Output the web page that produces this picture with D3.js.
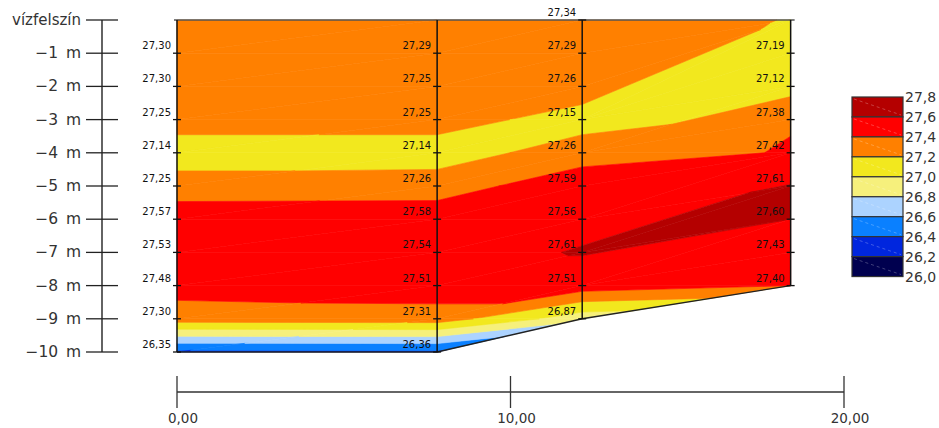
<!DOCTYPE html>
<html>
<head>
<meta charset="utf-8">
<script src="https://cdn.jsdelivr.net/npm/d3@7"></script>
<style>
  body { margin: 0; background: #fff; }
  svg { display: block; font-family: "DejaVu Sans", Verdana, sans-serif; }
</style>
</head>
<body>
<svg id="chart" width="939" height="428"></svg>
<script>
// Profile stations along the section (distance along the transect)
const stationDistance = [0, 7.8, 12.15, 18.4];

// Measured depths (m below the water surface) and water temperatures (°C) per station
const depths1 = [1, 2, 3, 4, 5, 6, 7, 8, 9, 10];
const temps1  = [27.30, 27.30, 27.25, 27.14, 27.25, 27.57, 27.53, 27.48, 27.30, 26.35];
const depths2 = [1, 2, 3, 4, 5, 6, 7, 8, 9, 10];
const temps2  = [27.29, 27.25, 27.25, 27.14, 27.26, 27.58, 27.54, 27.51, 27.31, 26.36];
const depths3 = [0, 1, 2, 3, 4, 5, 6, 7, 8, 9];
const temps3  = [27.34, 27.29, 27.26, 27.15, 27.26, 27.59, 27.56, 27.61, 27.51, 26.87];
const depths4 = [1, 2, 3, 4, 5, 6, 7, 8];
const temps4  = [27.19, 27.12, 27.38, 27.42, 27.61, 27.60, 27.43, 27.40];

// Colour classes (bottom to top)
const classBreaks  = [26.0, 26.2, 26.4, 26.6, 26.8, 27.0, 27.2, 27.4, 27.6, 27.8];
const classColors  = ["#00004f", "#0026de", "#0a80ff", "#acd3ff", "#f6f07c",
                      "#f2e81e", "#ff8000", "#ff0000", "#b40000"];

// Axis ticks
const depthTicks       = [0, 1, 2, 3, 4, 5, 6, 7, 8, 9, 10];
const depthTickLabels  = ["vízfelszín", "\u22121\u2002m", "\u22122\u2002m", "\u22123\u2002m", "\u22124\u2002m",
                          "\u22125\u2002m", "\u22126\u2002m", "\u22127\u2002m", "\u22128\u2002m", "\u22129\u2002m", "\u221210\u2002m"];
const distanceTicks      = [0, 10, 20];
const distanceTickLabels = ["0,00", "10,00", "20,00"];

// ---------------------------------------------------------------------------
const svg = d3.select("#chart");
const x = d3.scaleLinear().domain([0, 20]).range([177, 844]);
const y = d3.scaleLinear().domain([0, 10]).range([20, 352]);
const fmt = d3.formatLocale({ decimal: ",", thousands: " ", grouping: [3], currency: ["", ""] }).format(".2f");

const profiles = [
  { dist: stationDistance[0], depths: depths1, temps: temps1 },
  { dist: stationDistance[1], depths: depths2, temps: temps2 },
  { dist: stationDistance[2], depths: depths3, temps: temps3 },
  { dist: stationDistance[3], depths: depths4, temps: temps4 }
];

// Node list of each profile: surface node (carrying the shallowest reading if not measured) + readings
profiles.forEach(p => {
  const nodes = p.depths.map((d, i) => ({ d, v: p.temps[i] }));
  if (p.depths[0] > 0) nodes.unshift({ d: 0, v: p.temps[0] });
  p.nodes = nodes.map(n => ({ px: x(p.dist), py: y(n.d), d: n.d, v: n.v }));
});

// Triangulate the strip between two neighbouring profiles by walking down both
// columns; keyR maps a right-hand depth onto the left-hand depth it pairs with.
// Towards the right bank the layers rise, so the last strip pairs right nodes
// with deeper nodes on the left.
function stripTriangles(L, R, keyR) {
  const tris = [];
  let i = 0, j = 0;
  while (i < L.length - 1 || j < R.length - 1) {
    let advanceLeft;
    if (i === L.length - 1) advanceLeft = false;
    else if (j === R.length - 1) advanceLeft = true;
    else advanceLeft = L[i + 1].d <= keyR(R[j + 1].d);
    if (advanceLeft) { tris.push([L[i], R[j], L[i + 1]]); i++; }
    else { tris.push([L[i], R[j], R[j + 1]]); j++; }
  }
  return tris;
}
const strips = [
  d => d + 0.01,
  d => d + 0.01,
  d3.scaleLinear().domain([1, 2, 4, 5, 6, 8]).range([3.1, 3.9, 4.9, 6.5, 7.5, 8.7])
];
let triangles = [];
for (let s = 0; s < profiles.length - 1; s++) {
  triangles = triangles.concat(stripTriangles(profiles[s].nodes, profiles[s + 1].nodes, strips[s]));
}

// Clip a polygon (vertices carry linear values) to v >= c (sign 1) or v <= c (sign -1)
function clipPoly(poly, c, sign) {
  const out = [];
  for (let k = 0; k < poly.length; k++) {
    const a = poly[k], b = poly[(k + 1) % poly.length];
    const ina = sign * (a.v - c) >= 0, inb = sign * (b.v - c) >= 0;
    if (ina) out.push(a);
    if (ina !== inb) {
      const t = (c - a.v) / (b.v - a.v);
      out.push({ px: a.px + t * (b.px - a.px), py: a.py + t * (b.py - a.py), v: c });
    }
  }
  return out;
}

const bandPolys = [];
triangles.forEach(tri => {
  for (let b = 0; b < classColors.length; b++) {
    let poly = clipPoly(tri, classBreaks[b], 1);
    if (poly.length < 3) continue;
    poly = clipPoly(poly, classBreaks[b + 1], -1);
    if (poly.length < 3) continue;
    bandPolys.push({ poly, color: classColors[b] });
  }
});

const line = d3.line().x(p => p.px).y(p => p.py);

svg.append("g").attr("class", "bands")
  .selectAll("path").data(bandPolys).join("path")
  .attr("d", d => line(d.poly) + "Z")
  .attr("fill", d => d.color)
  .attr("stroke", d => d.color)
  .attr("stroke-width", 0.6)
  .attr("stroke-linejoin", "round");

// Section frame: water surface, profile lines, bed line
const gFrame = svg.append("g");
gFrame.append("line")
  .attr("x1", x(stationDistance[0]) - 3).attr("x2", x(stationDistance[3]) + 4)
  .attr("y1", y(0)).attr("y2", y(0))
  .attr("stroke", "#555").attr("stroke-width", 1.5);

gFrame.append("path")
  .attr("d", d3.line()(profiles.map(p => [x(p.dist), y(p.depths[p.depths.length - 1])])))
  .attr("fill", "none").attr("stroke", "#222").attr("stroke-width", 1.4);

profiles.forEach(p => {
  const px = x(p.dist);
  const maxD = p.depths[p.depths.length - 1];
  gFrame.append("line")
    .attr("x1", px).attr("x2", px).attr("y1", y(0)).attr("y2", y(maxD))
    .attr("stroke", "#111").attr("stroke-width", 1.5);
  gFrame.selectAll(null).data(p.depths).join("line")
    .attr("x1", px - 4).attr("x2", px + 4)
    .attr("y1", d => y(d)).attr("y2", d => y(d))
    .attr("stroke", "#111").attr("stroke-width", 1.3);
  gFrame.selectAll(null).data(p.depths.map((d, i) => ({ d, v: p.temps[i] }))).join("text")
    .attr("x", px - 6).attr("y", d => y(d.d) - 4)
    .attr("text-anchor", "end")
    .attr("font-size", 10)
    .attr("fill", "#111")
    .text(d => fmt(d.v));
});

// Depth axis
const gDepth = svg.append("g");
gDepth.append("line")
  .attr("x1", 102).attr("x2", 102).attr("y1", y(0)).attr("y2", y(10))
  .attr("stroke", "#222").attr("stroke-width", 1.4);
gDepth.selectAll(null).data(depthTicks).join("line")
  .attr("x1", 86).attr("x2", 118)
  .attr("y1", d => y(d)).attr("y2", d => y(d))
  .attr("stroke", "#222").attr("stroke-width", 1.3);
gDepth.selectAll(null).data(depthTicks).join("text")
  .attr("x", 81).attr("y", d => y(d) + 5)
  .attr("text-anchor", "end")
  .attr("font-size", d => d === 0 ? 15 : 15.5)
  .attr("fill", "#333")
  .text((d, i) => depthTickLabels[i]);

// Distance axis
const gDist = svg.append("g");
gDist.append("line")
  .attr("x1", x(0)).attr("x2", x(20)).attr("y1", 392).attr("y2", 392)
  .attr("stroke", "#333").attr("stroke-width", 1.3);
gDist.selectAll(null).data(distanceTicks).join("line")
  .attr("x1", d => x(d)).attr("x2", d => x(d)).attr("y1", 376).attr("y2", 408)
  .attr("stroke", "#333").attr("stroke-width", 1.3);
gDist.selectAll(null).data(distanceTicks).join("text")
  .attr("x", d => x(d) + 6).attr("y", 423)
  .attr("text-anchor", "middle")
  .attr("font-size", 13.5)
  .attr("fill", "#333")
  .text((d, i) => distanceTickLabels[i]);

// Legend
const lg = svg.append("g").attr("transform", "translate(852,97)");
const boxH = 19.95, boxW = 51;
const legendItems = classColors.map((c, i) => ({ c, i })).reverse();
lg.selectAll("rect").data(legendItems).join("rect")
  .attr("x", 0).attr("y", (d, k) => k * boxH)
  .attr("width", boxW).attr("height", boxH)
  .attr("fill", d => d.c)
  .attr("stroke", "#333").attr("stroke-width", 1.2);
lg.selectAll("line.hatch").data(legendItems).join("line")
  .attr("class", "hatch")
  .attr("x1", 2).attr("y1", (d, k) => k * boxH + 2)
  .attr("x2", boxW - 2).attr("y2", (d, k) => (k + 1) * boxH - 2)
  .attr("stroke", "#fff").attr("stroke-opacity", 0.25)
  .attr("stroke-dasharray", "3,3");
lg.selectAll("text").data(classBreaks.slice().reverse()).join("text")
  .attr("x", boxW + 2).attr("y", (d, k) => k * boxH + 5)
  .attr("font-size", 14)
  .attr("fill", "#333")
  .text(d => d3.format(".1f")(d).replace(".", ","));
</script>
</body>
</html>
